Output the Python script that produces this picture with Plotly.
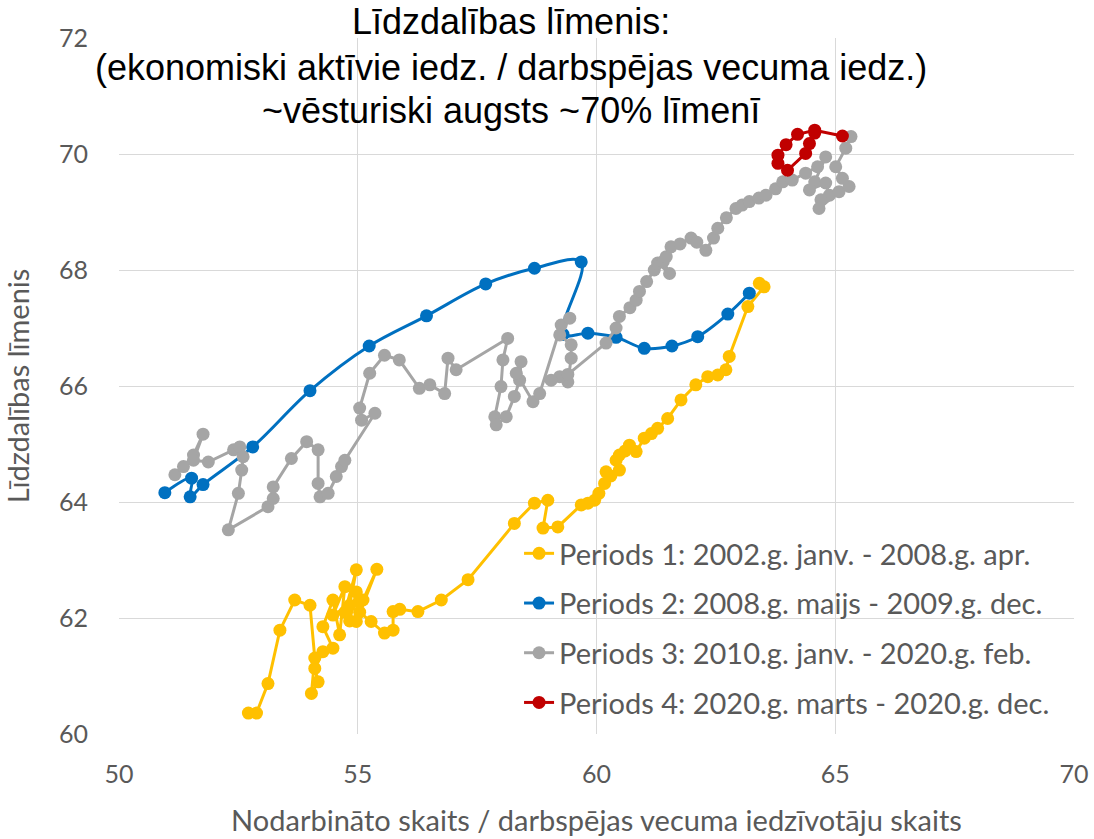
import plotly.graph_objects as go

# ---------------- data ----------------
p1_x = [52.71, 52.88, 53.12, 53.37, 53.68, 54.00, 54.10, 54.03, 54.17, 54.10,
        54.27, 54.48, 54.27, 54.48, 54.62, 54.73, 54.48, 54.83, 54.97, 54.73,
        55.04, 54.97, 55.40, 55.11, 54.97, 54.83, 55.04, 55.28, 55.56, 55.74,
        55.74, 55.88, 56.26, 56.75, 57.31, 58.28, 58.70, 58.98, 58.88, 59.19,
        59.68, 59.82, 59.96, 60.05, 60.17, 60.20, 60.30, 60.48, 60.41, 60.48,
        60.60, 60.69, 60.83, 61.00, 61.15, 61.28, 61.49, 61.77, 62.08, 62.33,
        62.54, 62.71, 62.78, 63.17, 63.51, 63.41]
p1_y = [60.36, 60.36, 60.87, 61.79, 62.31, 62.22, 61.31, 60.70, 60.90, 61.13,
        61.42, 61.48, 61.85, 62.31, 61.71, 62.54, 62.05, 62.22, 62.83, 62.10,
        62.28, 61.94, 62.84, 62.31, 62.45, 61.95, 62.10, 61.94, 61.74, 61.79,
        62.11, 62.15, 62.11, 62.31, 62.66, 63.63, 63.98, 64.03, 63.55, 63.57,
        63.95, 63.98, 64.03, 64.15, 64.32, 64.52, 64.45, 64.55, 64.72, 64.81,
        64.88, 64.98, 64.87, 65.10, 65.18, 65.27, 65.44, 65.76, 66.02, 66.16,
        66.19, 66.28, 66.51, 67.37, 67.71, 67.77]

p2_x = [63.20, 62.75, 62.12, 61.58, 61.00, 60.41, 59.82, 59.30, 59.68, 58.70,
        57.68, 56.44, 55.24, 54.00, 52.80, 51.76, 51.49, 51.52, 50.96]
p2_y = [67.60, 67.24, 66.85, 66.69, 66.65, 66.84, 66.91, 66.89, 68.14, 68.03,
        67.76, 67.21, 66.69, 65.92, 64.95, 64.30, 64.09, 64.41, 64.16]

p3_x = [51.17, 51.35, 51.56, 51.76, 51.56, 51.87, 52.40, 52.53, 52.60, 52.57,
        52.50, 52.29, 53.12, 53.23, 53.23, 53.61, 53.93, 54.17, 54.17, 54.21,
        54.38, 54.55, 54.66, 54.73, 55.36, 55.08, 55.04, 55.25, 55.56, 55.87,
        56.29, 56.51, 56.82, 56.89, 57.06, 58.14, 58.04, 58.00, 57.87, 57.90,
        58.11, 58.28, 58.39, 58.42, 58.32, 58.67, 58.81, 59.26, 59.44, 59.23,
        59.47, 59.47, 59.40, 59.23, 59.05, 59.40, 60.20, 60.41, 60.48, 60.70,
        60.83, 60.90, 61.05, 61.21, 61.28, 61.53, 61.40, 61.46, 61.56, 61.75,
        61.98, 62.10, 62.29, 62.45, 62.54, 62.72, 62.92, 63.05, 63.20, 63.40,
        63.55, 63.75, 63.90, 64.10, 64.38, 64.63, 64.80, 64.57, 64.46, 64.80,
        64.88, 64.70, 64.66, 65.08, 65.29, 65.15, 65.01, 65.22, 65.33]
p3_y = [64.47, 64.61, 64.81, 65.17, 64.72, 64.69, 64.90, 64.95, 64.78, 64.55,
        64.15, 63.52, 63.92, 64.06, 64.26, 64.75, 65.04, 64.90, 64.32, 64.09,
        64.15, 64.44, 64.61, 64.72, 65.53, 65.41, 65.62, 66.22, 66.53, 66.45,
        65.96, 66.02, 65.87, 66.48, 66.28, 66.82, 66.45, 65.99, 65.47, 65.33,
        65.47, 65.82, 66.10, 66.42, 66.22, 65.73, 65.87, 67.05, 67.17, 66.88,
        66.71, 66.48, 66.07, 66.16, 66.10, 66.20, 66.74, 67.00, 67.20, 67.35,
        67.48, 67.63, 67.80, 68.00, 68.12, 67.94, 68.15, 68.23, 68.40, 68.45,
        68.55, 68.48, 68.34, 68.55, 68.72, 68.90, 69.06, 69.12, 69.18, 69.24,
        69.29, 69.40, 69.52, 69.55, 69.67, 69.78, 69.95, 69.52, 69.38, 69.50,
        69.29, 69.21, 69.06, 69.35, 69.44, 69.58, 69.78, 70.10, 70.30]

p4_x = [65.15, 64.57, 64.21, 63.97, 63.80, 63.80, 64.00, 64.38, 64.46, 64.57]
p4_y = [70.31, 70.41, 70.34, 70.16, 69.98, 69.84, 69.72, 70.01, 70.18, 70.36]

names = ["Periods 1: 2002.g. janv. - 2008.g. apr.",
         "Periods 2: 2008.g. maijs - 2009.g. dec.",
         "Periods 3: 2010.g. janv. - 2020.g. feb.",
         "Periods 4: 2020.g. marts - 2020.g. dec."]
colors = ["#FFC000", "#0070C0", "#A5A5A5", "#C00000"]
shapes = ["linear", "spline", "linear", "linear"]

title_lines = ["Līdzdalības līmenis:",
               "(ekonomiski aktīvie iedz. / darbspējas vecuma iedz.)",
               "~vēsturiski augsts ~70% līmenī"]
title_y = [1.0244, 0.9569, 0.8952]
x_title = "Nodarbināto skaits / darbspējas vecuma iedzīvotāju skaits"
y_title = "Līdzdalības līmenis"

# ---------------- figure ----------------
fig = go.Figure()
series = [(p1_x, p1_y), (p2_x, p2_y), (p3_x, p3_y), (p4_x, p4_y)]
for i, ((xs, ys), nm, c, sh) in enumerate(zip(series, names, colors, shapes)):
    fig.add_trace(go.Scatter(
        x=xs, y=ys, name=nm, mode="lines+markers",
        line=dict(color=c, width=3, shape=sh),
        marker=dict(color=c, size=13),
        legendgroup=f"g{i}",
    ))

for txt, ty in zip(title_lines, title_y):
    fig.add_annotation(text=txt, xref="paper", yref="paper", x=0.4100, y=ty,
                       xanchor="center", yanchor="middle", showarrow=False,
                       font=dict(family="Liberation Sans, Arial", size=36, color="black"))

grey = "#595959"
fig.update_layout(
    width=1094, height=839,
    paper_bgcolor="white", plot_bgcolor="white",
    margin=dict(l=119, r=20, t=38, b=105, autoexpand=False),
    font=dict(family="Lato, Liberation Sans, Arial", color=grey),
    showlegend=True,
    legend=dict(x=0.4189, y=0.296, xanchor="left", yanchor="top",
                bgcolor="rgba(0,0,0,0)", font=dict(size=29, color=grey),
                tracegroupgap=9, itemwidth=30),
    xaxis=dict(range=[50, 70], dtick=5, tick0=50, showgrid=True, gridcolor="#D9D9D9",
               gridwidth=1, zeroline=False, showline=False,
               tickfont=dict(size=25, color=grey), ticklabelstandoff=23,
               title=dict(text=x_title, font=dict(size=29, color=grey), standoff=23)),
    yaxis=dict(range=[60, 72], dtick=2, tick0=60, showgrid=True, gridcolor="#D9D9D9",
               gridwidth=1, zeroline=False, showline=False,
               tickfont=dict(size=25, color=grey), ticklabelstandoff=30,
               title=dict(text=y_title, font=dict(size=29, color=grey), standoff=22)),
)

# remove the default 8px page margin so the figure fills the window exactly
fig.write_html("out.html",
               config={"displayModeBar": False},
               post_script="document.body.style.margin='0';document.body.style.overflow='hidden';")
